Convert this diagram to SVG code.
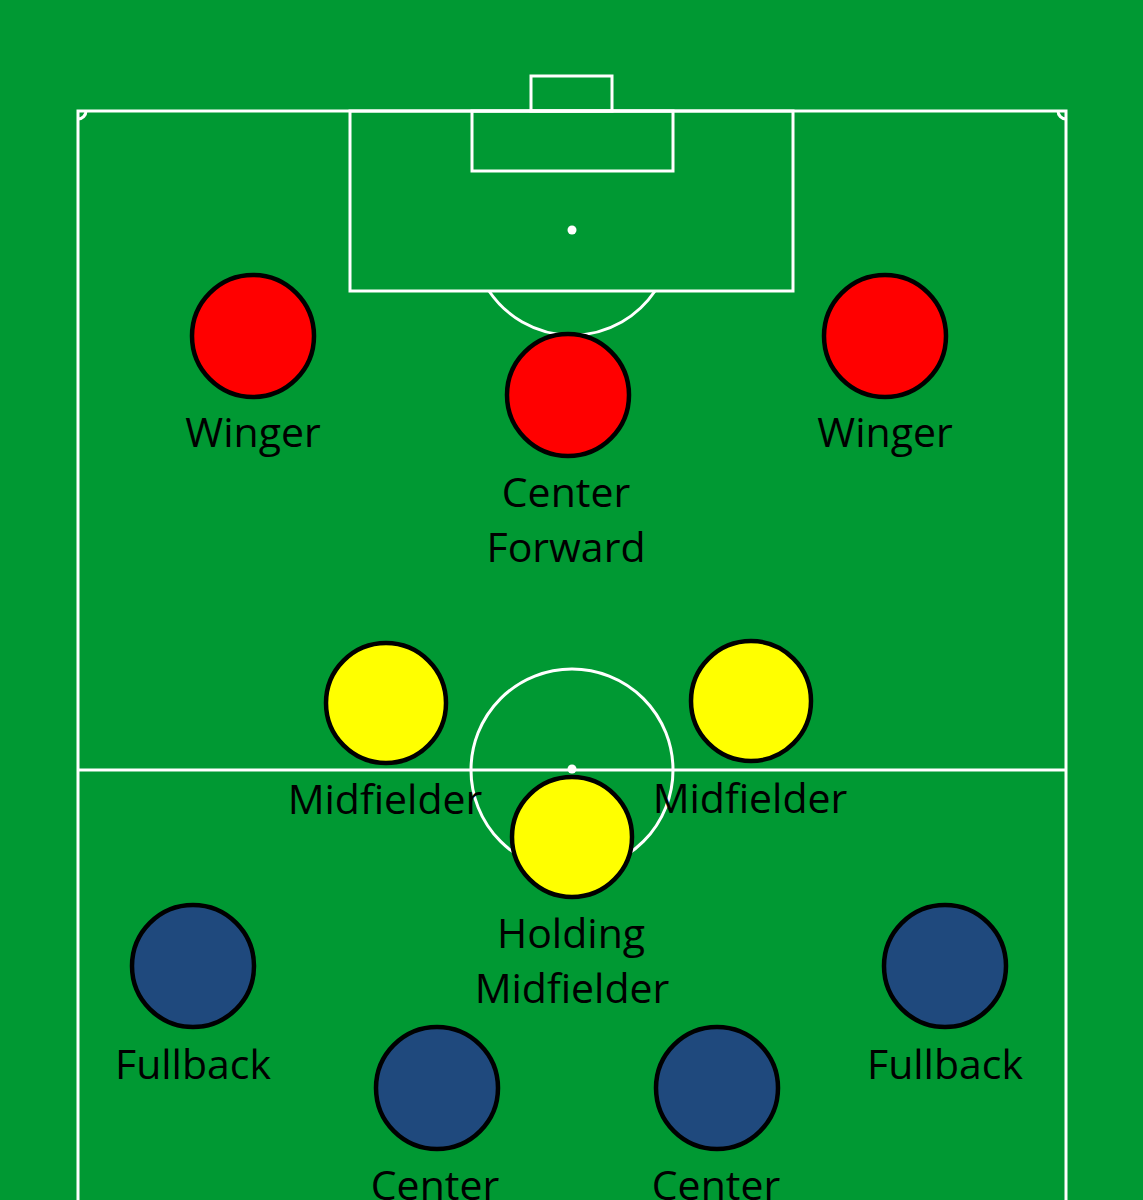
<svg xmlns="http://www.w3.org/2000/svg" width="1143" height="1200" viewBox="0 0 1143 1200">
<style>
.line{fill:none;stroke:#ffffff;stroke-width:3}
.spot{fill:#ffffff}
.p{stroke:#000000;stroke-width:4.5}
.red{fill:#ff0000}
.yel{fill:#ffff00}
.blu{fill:#1f497d}
.lbl{font-family:"Open Sans","Liberation Sans",sans-serif;font-size:41px;fill:#000000;text-anchor:middle}
</style>
<rect x="0" y="0" width="1143" height="1200" fill="#009933"/>
<g id="pitch">
<path class="line" d="M78,1210 V111 H1066 V1210"/>
<line class="line" x1="79" y1="770" x2="1065" y2="770"/>
<rect class="line" x="350" y="111" width="443" height="180"/>
<rect class="line" x="472" y="111" width="201" height="60"/>
<rect class="line" x="531" y="76" width="81" height="35"/>
<circle class="spot" cx="572" cy="230" r="4.5"/>
<path class="line" d="M489,291 A100,100 0 0 0 655,291"/>
<circle class="line" cx="572" cy="770" r="101"/>
<circle class="spot" cx="572" cy="769" r="4.5"/>
<path class="line" d="M78,119 A8,8 0 0 0 86,111"/>
<path class="line" d="M1058,111 A8,8 0 0 0 1066,119"/>
</g>
<g id="winger-left">
<circle class="p red" cx="253" cy="336" r="61"/>
<text class="lbl" x="253" y="447">Winger</text>
</g>
<g id="center-forward">
<circle class="p red" cx="568" cy="395" r="61"/>
<text class="lbl" x="566" y="507">Center</text>
<text class="lbl" x="566" y="562">Forward</text>
</g>
<g id="winger-right">
<circle class="p red" cx="885" cy="336" r="61"/>
<text class="lbl" x="885" y="447">Winger</text>
</g>
<g id="midfielder-left">
<circle class="p yel" cx="386" cy="703" r="60"/>
<text class="lbl" x="385" y="814">Midfielder</text>
</g>
<g id="midfielder-right">
<circle class="p yel" cx="751" cy="701" r="60"/>
<text class="lbl" x="750" y="813">Midfielder</text>
</g>
<g id="holding-midfielder">
<circle class="p yel" cx="572" cy="837" r="60"/>
<text class="lbl" x="571" y="948">Holding</text>
<text class="lbl" x="572" y="1003">Midfielder</text>
</g>
<g id="fullback-left">
<circle class="p blu" cx="193" cy="966" r="61"/>
<text class="lbl" x="193" y="1079">Fullback</text>
</g>
<g id="fullback-right">
<circle class="p blu" cx="945" cy="966" r="61"/>
<text class="lbl" x="945" y="1079">Fullback</text>
</g>
<g id="center-back-left">
<circle class="p blu" cx="437" cy="1088" r="61"/>
<text class="lbl" x="435" y="1200">Center</text>
</g>
<g id="center-back-right">
<circle class="p blu" cx="717" cy="1088" r="61"/>
<text class="lbl" x="716" y="1200">Center</text>
</g>
<g id="connectors"></g>
</svg>
